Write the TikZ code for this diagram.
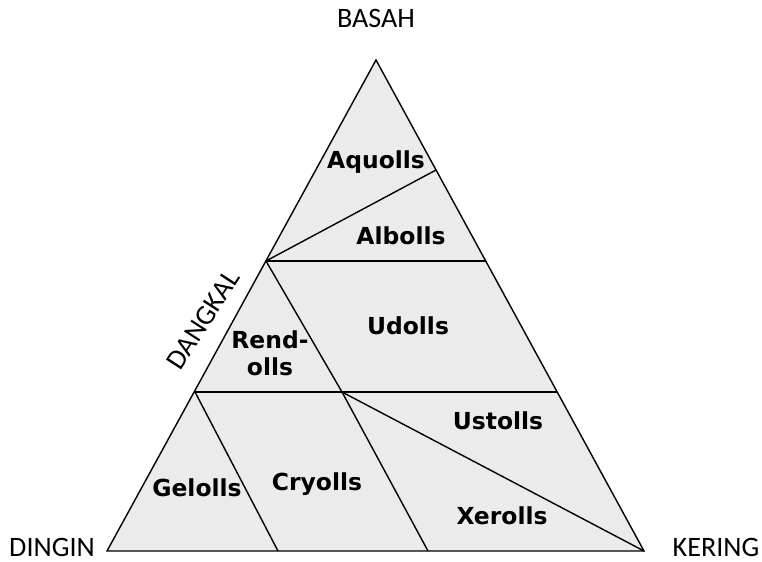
\documentclass[tikz,border=0pt]{standalone}
\usepackage{fontspec}
\setmainfont{Carlito}
\newfontfamily\soilfont{DejaVu Sans}
\usepackage{tikz}
\definecolor{soilgray}{HTML}{EBEBEB}

\begin{document}
\begin{tikzpicture}[x=0.03cm,y=-0.03cm,line width=1.2pt,
  corner/.style={font=\fontsize{24}{28}\selectfont,inner sep=0.5pt},
  order/.style={font=\soilfont\bfseries\fontsize{20}{23}\selectfont,align=center}]
\useasboundingbox (0,0) rectangle (762,561);
\coordinate (top) at (376,60);
\coordinate (bl) at (107,551);
\coordinate (br) at (644,551);
\coordinate (aq) at (436,170);
\coordinate (sh) at (266,261);
\coordinate (shr) at (486,261);
\coordinate (mid) at (195,392);
\coordinate (midr) at (557,392);
\coordinate (cr) at (342,392);
\coordinate (gb) at (278,551);
\coordinate (cb) at (428,551);
\filldraw[fill=soilgray] (top) -- (bl) -- (br) -- cycle;
\draw (sh) -- (aq);
\draw (sh) -- (shr);
\draw (sh) -- (cr);
\draw (mid) -- (midr);
\draw (mid) -- (gb);
\draw (cr) -- (cb);
\draw (cr) -- (br);
\node[corner,anchor=base] (basah) at (376,27) {BASAH};
\node[corner,anchor=base] (dingin) at (52,556) {DINGIN};
\node[corner,anchor=base] (kering) at (716,556) {KERING};
\node[corner,rotate=57] (dangkal) at (203,320) {DANGKAL};
\node[order] (aquolls) at (376,162) {Aquolls};
\node[order] (albolls) at (401,236) {Albolls};
\node[order] (udolls) at (408,326) {Udolls};
\node[order] (rendolls) at (270,353) {Rend-\\olls};
\node[order] (ustolls) at (498,421) {Ustolls};
\node[order] (gelolls) at (197,488) {Gelolls};
\node[order] (cryolls) at (317,484) {Cryolls};
\node[order] (xerolls) at (502,516) {Xerolls};
\end{tikzpicture}
\end{document}
